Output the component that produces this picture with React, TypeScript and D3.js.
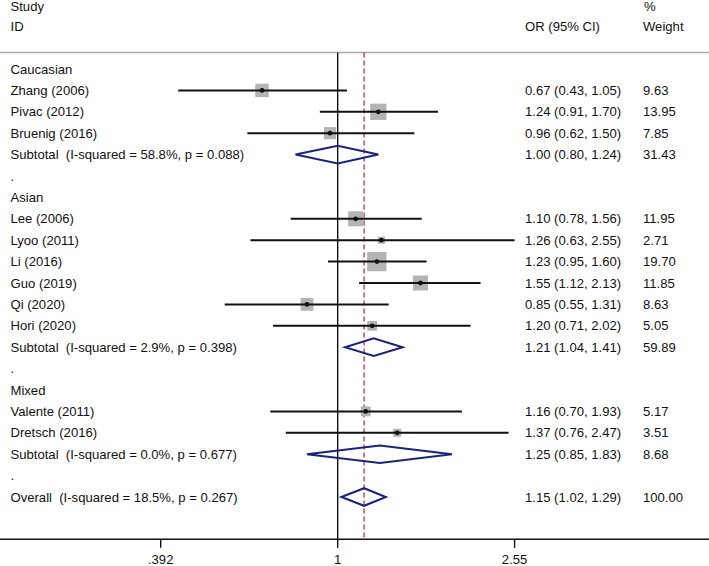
import React from "react";
import * as d3 from "d3";

type Row = {
  kind: "group" | "study" | "subtotal" | "blank" | "overall";
  label: string;
  or?: number;
  lo?: number;
  hi?: number;
  weight?: string;
};

const groups = ["Caucasian", "Asian", "Mixed"];

const caucasianStudies = ["Zhang (2006)", "Pivac (2012)", "Bruenig (2016)"];
const caucasianOR = [0.67, 1.24, 0.96];
const caucasianLo = [0.43, 0.91, 0.62];
const caucasianHi = [1.05, 1.7, 1.5];
const caucasianW = ["9.63", "13.95", "7.85"];

const asianStudies = ["Lee (2006)", "Lyoo (2011)", "Li (2016)", "Guo (2019)", "Qi (2020)", "Hori (2020)"];
const asianOR = [1.1, 1.26, 1.23, 1.55, 0.85, 1.2];
const asianLo = [0.78, 0.63, 0.95, 1.12, 0.55, 0.71];
const asianHi = [1.56, 2.55, 1.6, 2.13, 1.31, 2.02];
const asianW = ["11.95", "2.71", "19.70", "11.85", "8.63", "5.05"];

const mixedStudies = ["Valente (2011)", "Dretsch (2016)"];
const mixedOR = [1.16, 1.37];
const mixedLo = [0.7, 0.76];
const mixedHi = [1.93, 2.47];
const mixedW = ["5.17", "3.51"];

const subtotalLabels = [
  "Subtotal  (I-squared = 58.8%, p = 0.088)",
  "Subtotal  (I-squared = 2.9%, p = 0.398)",
  "Subtotal  (I-squared = 0.0%, p = 0.677)",
];
const subtotalOR = [1.0, 1.21, 1.25];
const subtotalLo = [0.8, 1.04, 0.85];
const subtotalHi = [1.24, 1.41, 1.83];
const subtotalW = ["31.43", "59.89", "8.68"];

const overallLabel = "Overall  (I-squared = 18.5%, p = 0.267)";
const overallOR = 1.15;
const overallLo = 1.02;
const overallHi = 1.29;
const overallW = "100.00";

const tickValues = [0.392, 1, 2.55];
const tickLabels = [".392", "1", "2.55"];

const groupStudies = [caucasianStudies, asianStudies, mixedStudies];
const groupOR = [caucasianOR, asianOR, mixedOR];
const groupLo = [caucasianLo, asianLo, mixedLo];
const groupHi = [caucasianHi, asianHi, mixedHi];
const groupW = [caucasianW, asianW, mixedW];

function buildRows(): Row[] {
  const rows: Row[] = [];
  groups.forEach((g, gi) => {
    rows.push({ kind: "group", label: g });
    groupStudies[gi].forEach((s, i) => {
      rows.push({
        kind: "study",
        label: s,
        or: groupOR[gi][i],
        lo: groupLo[gi][i],
        hi: groupHi[gi][i],
        weight: groupW[gi][i],
      });
    });
    rows.push({
      kind: "subtotal",
      label: subtotalLabels[gi],
      or: subtotalOR[gi],
      lo: subtotalLo[gi],
      hi: subtotalHi[gi],
      weight: subtotalW[gi],
    });
    rows.push({ kind: "blank", label: "." });
  });
  rows.push({ kind: "overall", label: overallLabel, or: overallOR, lo: overallLo, hi: overallHi, weight: overallW });
  return rows;
}

const W = 709;
const H = 566;
const FONT = "Arial, 'Liberation Sans', Helvetica, sans-serif";
const FS = 13.1;
const NAVY = "#1b237f";
const RED = "#b8343a";
const BOX = "#b4b4b4";

export default function App() {
  const rows = buildRows();
  const x = d3.scaleLog().domain([0.392, 2.55]).range([160.7, 514.6]);
  const y = (i: number) => 69 + i * 21.4;
  const headerLineY = 52.5;
  const axisY = 539.3;
  const boxK = 4.35;
  const fmt = d3.format(".2f");
  const colOR = 525;
  const colW = 643;
  const pre = { whiteSpace: "pre" as const };

  return (
    <svg
      width={W}
      height={H}
      style={{ position: "absolute", left: 0, top: 0, background: "#fff" }}
      fontFamily={FONT}
      fontSize={FS}
    >
      <rect x={0} y={0} width={W} height={H} fill="#fff" />
      {/* header */}
      <text x={10.5} y={6.8} dy="0.35em" fill="#111">Study</text>
      <text x={10.5} y={y(-2)} dy="0.35em" fill="#111">ID</text>
      <text x={colOR} y={y(-2)} dy="0.35em" fill="#111">OR (95% CI)</text>
      <text x={colW + 1} y={6.8} dy="0.35em" fill="#111">%</text>
      <text x={colW} y={y(-2)} dy="0.35em" fill="#111">Weight</text>
      <line x1={0} x2={W} y1={headerLineY} y2={headerLineY} stroke="#a9a9a9" strokeWidth={1.5} />

      {/* null line */}
      <line x1={x(1)} x2={x(1)} y1={headerLineY} y2={axisY} stroke="#111" strokeWidth={1.4} />
      {/* overall dashed line */}
      <line x1={x(overallOR)} x2={x(overallOR)} y1={headerLineY} y2={axisY} stroke={RED} strokeWidth={1.3} strokeDasharray="5,3" />

      {rows.map((r, i) => {
        const yy = y(i);
        const items: React.ReactNode[] = [];
        items.push(
          <text key="l" x={10.5} y={yy} dy="0.35em" fill="#111" style={pre}>{r.label}</text>
        );
        if (r.kind === "study" && r.or !== undefined) {
          const s = Math.sqrt(parseFloat(r.weight!)) * boxK;
          items.push(
            <rect key="b" x={x(r.or) - s / 2} y={yy - s / 2} width={s} height={s} fill={BOX} />,
            <line key="ci" x1={x(r.lo!)} x2={x(r.hi!)} y1={yy} y2={yy} stroke="#111" strokeWidth={2} />,
            <circle key="c" cx={x(r.or)} cy={yy} r={2.4} fill="#111" />
          );
        }
        if ((r.kind === "subtotal" || r.kind === "overall") && r.or !== undefined) {
          const h = 8.8;
          const pts = [
            [x(r.lo!), yy],
            [x(r.or), yy - h],
            [x(r.hi!), yy],
            [x(r.or), yy + h],
          ];
          items.push(
            <path key="d" d={d3.line()(pts as [number, number][])! + "Z"} fill="none" stroke={NAVY} strokeWidth={2} strokeLinejoin="miter" />
          );
        }
        if (r.or !== undefined) {
          items.push(
            <text key="or" x={colOR} y={yy} dy="0.35em" fill="#111">
              {`${fmt(r.or)} (${fmt(r.lo!)}, ${fmt(r.hi!)})`}
            </text>,
            <text key="w" x={colW} y={yy} dy="0.35em" fill="#111">{r.weight}</text>
          );
        }
        return <g key={i}>{items}</g>;
      })}

      {/* axis */}
      <line x1={0} x2={W} y1={axisY} y2={axisY} stroke="#111" strokeWidth={1.4} />
      {tickValues.map((t, i) => (
        <g key={t}>
          <line x1={x(t)} x2={x(t)} y1={axisY} y2={axisY + 8.5} stroke="#111" strokeWidth={1.4} />
          <text x={x(t)} y={559} dy="0.35em" textAnchor="middle" fill="#111">{tickLabels[i]}</text>
        </g>
      ))}
    </svg>
  );
}
